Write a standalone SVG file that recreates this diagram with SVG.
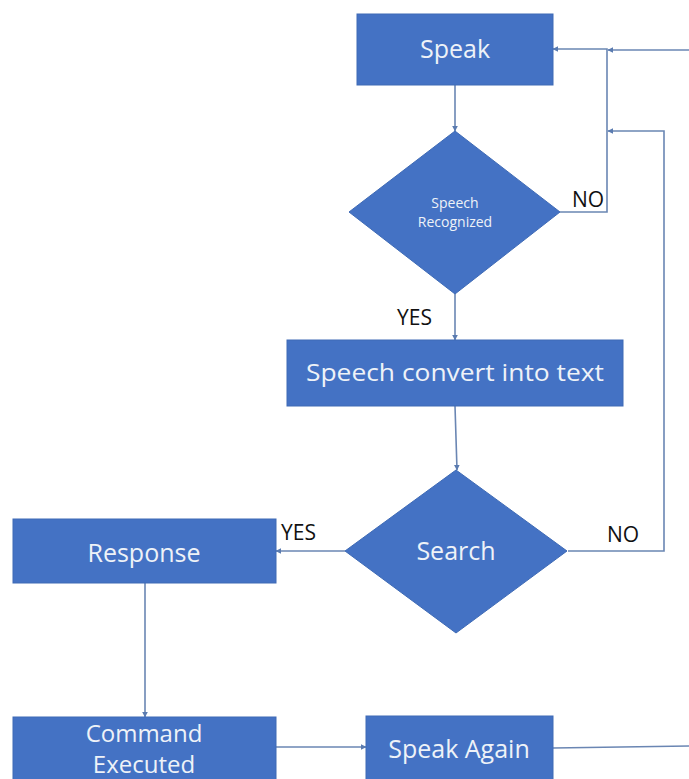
<svg xmlns="http://www.w3.org/2000/svg" width="689" height="779" viewBox="0 0 689 779">
<style>
.box{fill:#4472C4;stroke:#3E6AB5;stroke-width:1}
.t{fill:#EEF2F8;font-family:"Open Sans",Lato,sans-serif;text-anchor:middle}
.lbl{fill:#111;font-family:"Open Sans",Lato,sans-serif;font-size:21px}
.c{fill:none;stroke:#6A86B3;stroke-width:1.6}
</style>
<defs>
<marker id="ah" viewBox="0 0 10 10" refX="9" refY="5" markerWidth="6" markerHeight="6" orient="auto" markerUnits="userSpaceOnUse">
<path d="M0,0 L10,5 L0,10 z" fill="#5A7BB0"/>
</marker>
</defs>
<rect width="689" height="779" fill="#fff"/>
<g id="connectors">
<path class="c" d="M455,85 V131" marker-end="url(#ah)"/>
<path class="c" d="M560,212 H607 V49 H553" marker-end="url(#ah)"/>
<path class="c" d="M689,50 H608" marker-end="url(#ah)"/>
<path class="c" d="M455,294 V340" marker-end="url(#ah)"/>
<path class="c" d="M455,406 L457,470" marker-end="url(#ah)"/>
<path class="c" d="M568,551 H664 V131 H608" marker-end="url(#ah)"/>
<path class="c" d="M345,551 H276" marker-end="url(#ah)"/>
<path class="c" d="M145,583 V717" marker-end="url(#ah)"/>
<path class="c" d="M276,747 H366" marker-end="url(#ah)"/>
<path class="c" d="M553,748 L689,746"/>
</g>
<g id="speak">
<rect class="box" x="357" y="14" width="196" height="71"/>
<text class="t" x="455" y="58" font-size="25">Speak</text>
</g>
<g id="speech-recognized">
<polygon class="box" points="455,131 560,212 455,294 349,212"/>
<text class="t" x="455" y="208" font-size="14">Speech</text>
<text class="t" x="455" y="227" font-size="14">Recognized</text>
</g>
<g id="convert">
<rect class="box" x="287" y="340" width="336" height="66"/>
<text class="t" x="455" y="381" font-size="24" textLength="298" lengthAdjust="spacingAndGlyphs">Speech convert into text</text>
</g>
<g id="search">
<polygon class="box" points="456,470 567,551 456,633 345,551"/>
<text class="t" x="456" y="560" font-size="25">Search</text>
</g>
<g id="response">
<rect class="box" x="13" y="519" width="263" height="64"/>
<text class="t" x="144" y="562" font-size="25">Response</text>
</g>
<g id="command">
<rect class="box" x="13" y="717" width="263" height="70"/>
<text class="t" x="144" y="742" font-size="24">Command</text>
<text class="t" x="144" y="773" font-size="24">Executed</text>
</g>
<g id="speak-again">
<rect class="box" x="366" y="716" width="187" height="70"/>
<text class="t" x="459" y="758" font-size="25">Speak Again</text>
</g>
<g id="labels">
<text class="lbl" x="572" y="207">NO</text>
<text class="lbl" x="397" y="325">YES</text>
<text class="lbl" x="281" y="540">YES</text>
<text class="lbl" x="607" y="542">NO</text>
</g>
</svg>
